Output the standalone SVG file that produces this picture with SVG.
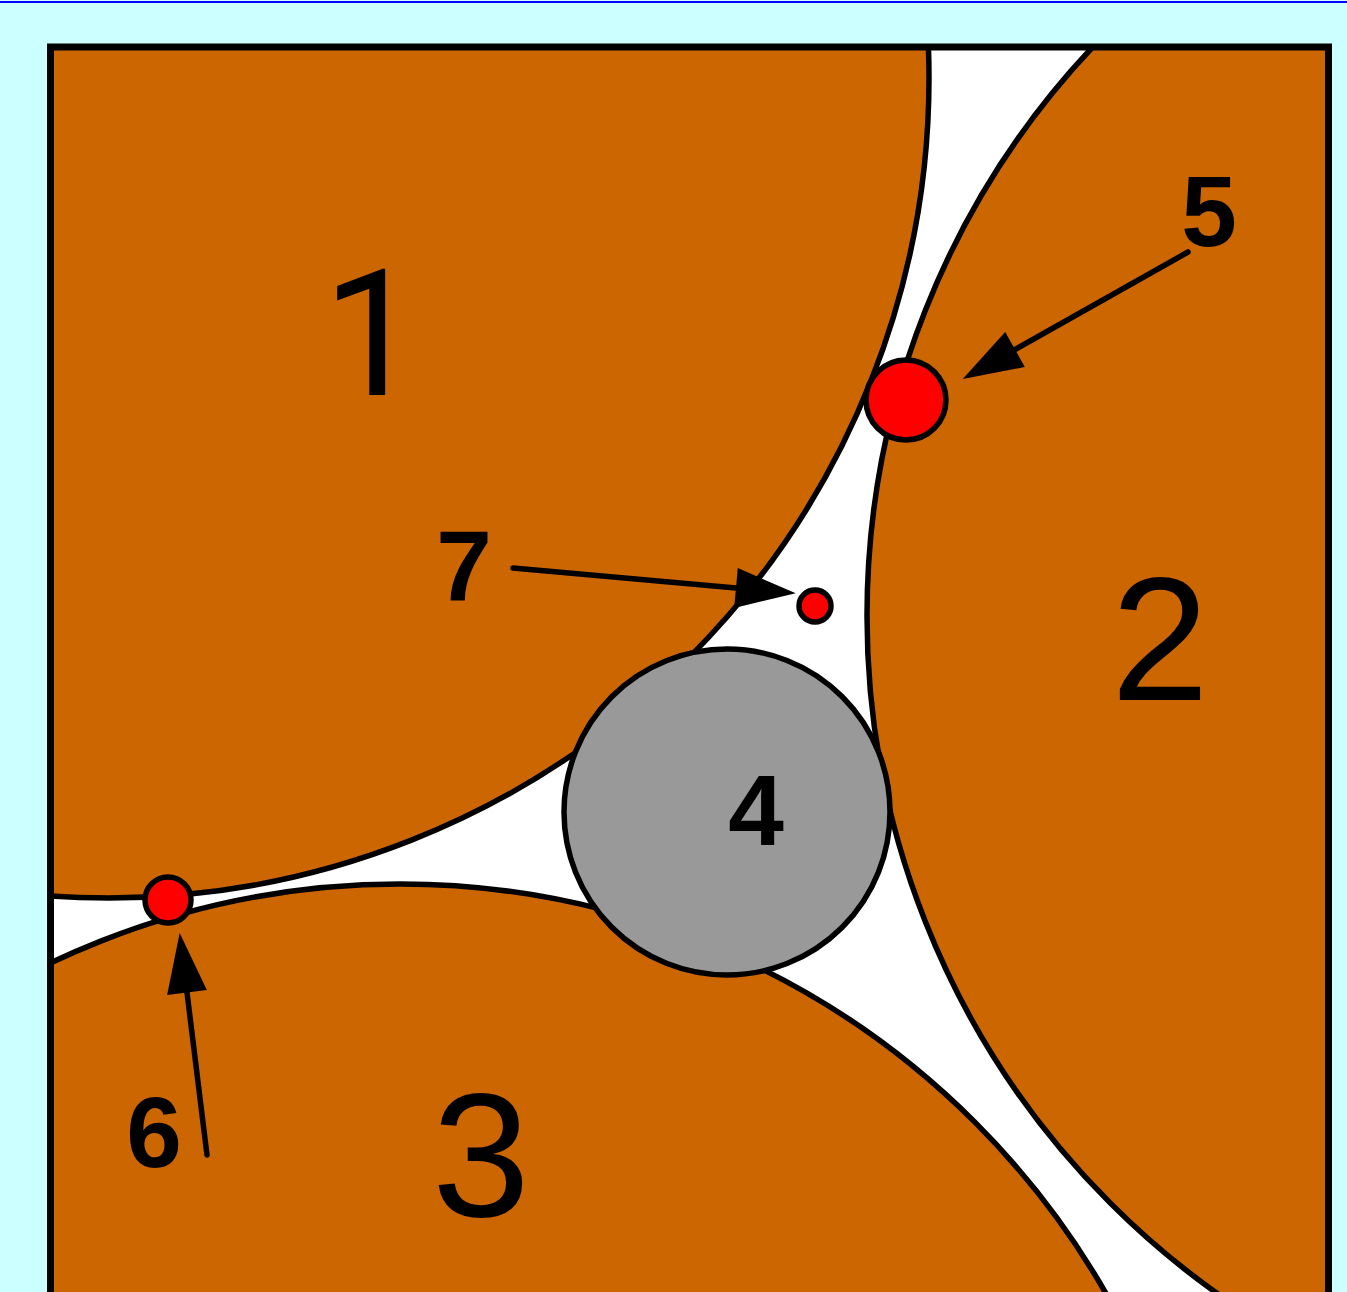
<svg xmlns="http://www.w3.org/2000/svg" width="1347" height="1292" viewBox="0 0 1347 1292">
  <style>
    .grain { fill: #CC6600; stroke: #000; stroke-width: 5.5; }
    .pore { fill: #999999; stroke: #000; stroke-width: 5.5; }
    .dot { fill: #FF0000; stroke: #000; stroke-width: 5.5; }
    .big { font-family: "Liberation Sans", Arial, sans-serif; font-size: 176px; fill: #000; text-anchor: middle; }
    .one { font-family: Roboto, "Liberation Sans", Arial, sans-serif; }
    .lbl { font-family: "Liberation Sans", Arial, sans-serif; font-size: 100px; font-weight: bold; fill: #000; text-anchor: middle; }
    .arrow { stroke: #000; stroke-width: 5.5; stroke-linecap: round; fill: none; marker-end: url(#head); }
  </style>
  <defs>
    <clipPath id="box">
      <rect x="50.5" y="47" width="1278" height="1300"/>
    </clipPath>
    <marker id="head" markerUnits="userSpaceOnUse" markerWidth="70" markerHeight="50" refX="0" refY="25" orient="auto" overflow="visible">
      <path d="M0,5 L60,25 L0,45 Z" fill="#000"/>
    </marker>
  </defs>
  <rect x="0" y="0" width="1347" height="1292" fill="#CCFFFF"/>
  <rect x="0" y="1" width="1347" height="2" fill="#0000FF"/>
  <rect x="50.5" y="47" width="1278" height="1300" fill="#FFFFFF"/>
  <g clip-path="url(#box)">
    <g id="grain1"><circle class="grain" cx="109" cy="78" r="820"/></g>
    <g id="grain2"><circle class="grain" cx="1697" cy="616" r="830"/></g>
    <g id="grain3"><circle class="grain" cx="400" cy="1697" r="813"/></g>
  </g>
  <rect x="50.5" y="47" width="1278" height="1300" fill="none" stroke="#000" stroke-width="7"/>
  <g id="pore4"><circle class="pore" cx="727" cy="812" r="163"/></g>
  <g id="dot5"><circle class="dot" cx="906" cy="400" r="40"/></g>
  <g id="dot6"><circle class="dot" cx="168" cy="900" r="23"/></g>
  <g id="dot7"><circle class="dot" cx="815" cy="606" r="16"/></g>
  <g id="connectors">
    <line class="arrow" x1="1188" y1="252" x2="1015" y2="349.5"/>
    <line class="arrow" x1="207" y1="1155" x2="187" y2="992.5"/>
    <line class="arrow" x1="513" y1="568" x2="736" y2="588"/>
  </g>
  <g id="labels">
    <text class="big one" x="372" y="395">1</text>
    <text class="big" x="1160" y="700">2</text>
    <text class="big" x="481" y="1216">3</text>
    <text class="lbl" x="756" y="845">4</text>
    <text class="lbl" x="1209" y="246">5</text>
    <text class="lbl" x="154" y="1167">6</text>
    <text class="lbl" x="464" y="601">7</text>
  </g>
</svg>
